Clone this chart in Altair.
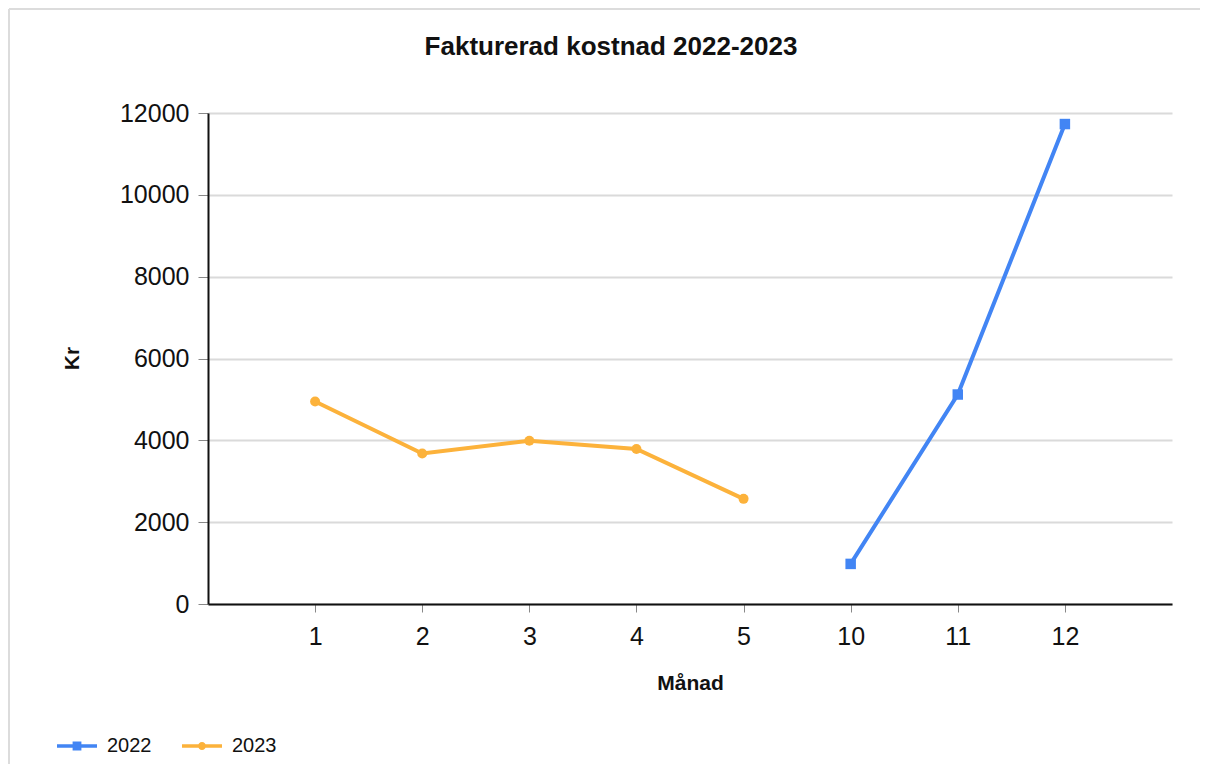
import altair as alt
import pandas as pd

# ---- data ----
month_order = ["1", "2", "3", "4", "5", "10", "11", "12"]
series = ["2022", "2023"]
series_colors = ["#4285f4", "#fcb23b"]
series_shapes = ["square", "circle"]
series_sizes = [110, 100]

months_2022 = ["10", "11", "12"]
values_2022 = [980, 5120, 11730]

months_2023 = ["1", "2", "3", "4", "5"]
values_2023 = [4950, 3680, 3990, 3790, 2570]

y_ticks = [0, 2000, 4000, 6000, 8000, 10000, 12000]

df = pd.concat(
    [
        pd.DataFrame({"Månad": months_2022, "Kr": values_2022, "År": "2022"}),
        pd.DataFrame({"Månad": months_2023, "Kr": values_2023, "År": "2023"}),
    ],
    ignore_index=True,
)

FONT = "Liberation Sans"

# legend symbols: line segment with the series marker in the middle
sq_path = "M-1,-0.09H1V0.09H-1Z M-0.22,-0.22H0.22V0.22H-0.22Z"
ci_path = ("M-1,-0.09H-0.12V0.09H-1Z M0.12,-0.09H1V0.09H0.12Z "
           "M-0.2,0A0.2,0.2 0 1,1 0.2,0A0.2,0.2 0 1,1 -0.2,0Z")

x_enc = alt.X(
    "Månad:O",
    sort=month_order,
    scale=alt.Scale(type="point", padding=1, domain=month_order),
    axis=alt.Axis(
        title="Månad",
        labelAngle=0,
        labelFont=FONT,
        labelFontSize=25,
        labelColor="#111111",
        labelPadding=12,
        tickSize=8,
        tickColor="#888888",
        tickWidth=1,
        domainColor="#111111",
        domainWidth=2,
        grid=False,
        titleFont=FONT,
        titleFontSize=21,
        titleFontWeight="bold",
        titleColor="#111111",
        titleBaseline="alphabetic",
        titleY=85,
    ),
)

y_enc = alt.Y(
    "Kr:Q",
    scale=alt.Scale(domain=[0, 12000], nice=False),
    axis=alt.Axis(
        title="Kr",
        values=y_ticks,
        format="d",
        labelFont=FONT,
        labelFontSize=25,
        labelColor="#111111",
        labelPadding=9,
        tickSize=10,
        tickColor="#888888",
        tickWidth=1,
        domainColor="#111111",
        domainWidth=2,
        grid=True,
        gridColor="#dadada",
        gridWidth=2,
        titleFont=FONT,
        titleFontSize=21,
        titleFontWeight="bold",
        titleColor="#111111",
        titleAngle=270,
        titleBaseline="middle",
        titleAlign="center",
        titleX=-136,
        titleY=245,
    ),
)

frame_data = pd.DataFrame({"a": [0]})
border_top = alt.Chart(frame_data).mark_rule(stroke="#dcdcdc", strokeWidth=2).encode(
    x=alt.value(-199), x2=alt.value(1400), y=alt.value(-104)
)
border_left = alt.Chart(frame_data).mark_rule(stroke="#dcdcdc", strokeWidth=2).encode(
    x=alt.value(-199), y=alt.value(-104), y2=alt.value(1000)
)

series_layers = []
for s, col, shp, sz in zip(series, series_colors, series_shapes, series_sizes):
    base = alt.Chart(df).transform_filter(alt.datum["År"] == s)
    series_layers.append(
        base.mark_line(strokeWidth=4, color=col).encode(x=x_enc, y=y_enc)
    )
    series_layers.append(
        base.mark_point(filled=True, opacity=1, strokeWidth=0, shape=shp, size=sz, color=col)
        .encode(x=x_enc, y=y_enc)
    )

legend_def = alt.Legend(
    title=None,
    orient="none",
    legendX=-151,
    legendY=613,
    direction="horizontal",
    symbolSize=1600,
    symbolStrokeWidth=0,
    symbolOpacity=1,
    labelFont=FONT,
    labelFontSize=20,
    labelColor="#111111",
    labelOffset=10,
    columnPadding=30,
    padding=0,
)

# legend-only layer (no marks drawn: its data is filtered empty)
legend_layer = (
    alt.Chart(df)
    .transform_filter("false")
    .mark_point(filled=True, opacity=1, strokeWidth=0)
    .encode(
        x=x_enc,
        y=y_enc,
        color=alt.Color("År:N", scale=alt.Scale(domain=series, range=series_colors), legend=legend_def),
        shape=alt.Shape("År:N", scale=alt.Scale(domain=series, range=[sq_path, ci_path]), legend=legend_def),
    )
)

chart = (
    alt.layer(border_top, border_left, *series_layers, legend_layer)
    .properties(
        width=964,
        height=491,
        padding={"left": 200, "top": 105, "right": 28, "bottom": 160},
        autosize=alt.AutoSizeParams(type="none"),
        title=alt.TitleParams(
            "Fakturerad kostnad 2022-2023",
            font=FONT,
            fontSize=26,
            fontWeight="bold",
            color="#111111",
            anchor="middle",
            dx=-79,
            offset=0,
            dy=52,
        ),
    )
    .configure_view(stroke=None)
)

chart.save("out.html", embed_options={"renderer": "svg", "actions": False})
